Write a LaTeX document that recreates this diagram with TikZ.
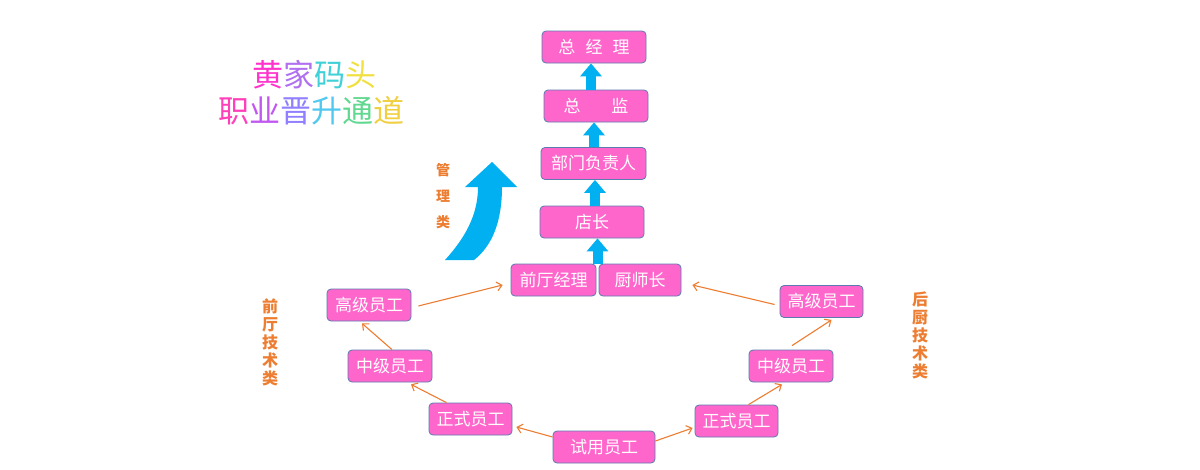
\documentclass[tikz,border=0pt]{standalone}
\usepackage{fontspec}
\newfontfamily\cjk{Noto Sans CJK SC}
\usetikzlibrary{arrows.meta,calc}
\definecolor{boxpink}{HTML}{FF66CC}
\definecolor{boxline}{HTML}{5B7BB0}
\definecolor{arrblue}{HTML}{00B0F0}
\definecolor{orng}{HTML}{ED7D31}
\definecolor{tA}{HTML}{FF33CC}
\definecolor{tB}{HTML}{B070F0}
\definecolor{tC}{HTML}{40D0D8}
\definecolor{tD}{HTML}{F0E040}
\definecolor{tE}{HTML}{FF40B8}
\definecolor{tF}{HTML}{C058F0}
\definecolor{tG}{HTML}{9080FF}
\definecolor{tH}{HTML}{50C8F0}
\definecolor{tI}{HTML}{60D890}
\definecolor{tJ}{HTML}{F0D040}
\newcommand\titleA{\textcolor{tA}{黄}\textcolor{tB}{家}\textcolor{tC}{码}\textcolor{tD}{头}}
\newcommand\titleB{\textcolor{tE}{职}\textcolor{tF}{业}\textcolor{tG}{晋}\textcolor{tH}{升}\textcolor{tI}{通}\textcolor{tJ}{道}}
\begin{document}
\begin{tikzpicture}[x=1pt,y=-1pt,
  box/.style={draw=boxline, line width=0.8pt, fill=boxpink, rounded corners=4pt,
    minimum height=32pt, inner sep=0pt, text=white,
    font=\cjk\fontsize{17}{17}\selectfont},
  uparr/.style={draw=arrblue, line width=10pt, -{Triangle[width=21pt,length=13pt]}},
  oarr/.style={draw=orng, line width=1.1pt, -{Straight Barb[length=5pt,width=9pt]}},
  lab/.style={text=orng, align=center, inner sep=0pt},
  ttl/.style={font=\cjk\fontsize{31}{31}\selectfont, inner sep=0pt}]
\useasboundingbox (0,0) rectangle (1200,469);
\fill[white] (0,0) rectangle (1200,469);

% title
\node[ttl] (tlA) at (314,75) {\titleA};
\node[ttl] (tlB) at (311,111) {\titleB};

% management chain
\node[box, minimum width=104pt] (zjl) at (594,47) {总\hspace{0.6em}经\hspace{0.6em}理};
\node[box, minimum width=104pt] (zj) at (596,106) {总\hspace{1.8em}监};
\node[box, minimum width=105pt] (bm) at (593.5,163.5) {部门负责人};
\node[box, minimum width=104pt] (dz) at (592,222) {店长};
\node[box, minimum width=85pt] (qt) at (553.5,280) {前厅经理};
\node[box, minimum width=82pt] (cs) at (640,280) {厨师长};

% front-of-house
\node[box, minimum width=84pt] (gj1) at (369,305) {高级员工};
\node[box, minimum width=84pt] (zj1) at (390,366) {中级员工};
\node[box, minimum width=83pt] (zs1) at (470.5,419) {正式员工};
\node[box, minimum width=102pt] (sy) at (604,447) {试用员工};
% kitchen
\node[box, minimum width=83pt] (zs2) at (736.5,421) {正式员工};
\node[box, minimum width=84pt] (zj2) at (791,366) {中级员工};
\node[box, minimum width=83pt] (gj2) at (821.5,301.5) {高级员工};

% blue block arrows
\draw[uparr] ($(zj.north)+(-5,0)$) -- ($(zjl.south)+(-3,0)$);
\draw[uparr] ($(bm.north)+(0.5,0)$) -- ($(zj.south)+(-2,0)$);
\coordinate (qc) at ($(qt.north east)!0.5!(cs.north west)$);
\draw[uparr] ($(dz.north)+(3,0)$) -- ($(bm.south)+(1.5,0)$);
\draw[uparr] (qc) -- ($(dz.south)+(5.5,0)$);

% orange arrows
\draw[oarr] ($(sy.west)+(0,-10)$) -- ($(zs1.east)+(4,8)$);
\draw[oarr] ($(sy.east)+(0,-6)$) -- ($(zs2.west)+(-2,7)$);
\draw[oarr] ($(zs1.north)+(-24,0)$) -- ($(zj1.south)+(21,2)$);
\draw[oarr] ($(zj1.north)+(2,0)$) -- ($(gj1.south)+(-7,2)$);
\draw[oarr] ($(gj1.east)+(7,1)$) -- ($(qt.west)+(-8,5)$);
\draw[oarr] ($(zs2.north)+(12,0)$) -- ($(zj2.south)+(-9,2)$);
\draw[oarr] ($(zj2.north)+(1,-4)$) -- ($(gj2.south)+(10,2)$);
\draw[oarr] ($(gj2.west)+(-5,3)$) -- ($(cs.east)+(11,5)$);

% curved big arrow
\fill[arrblue] (445,260) .. controls (465,238) and (478,215) .. (478,187)
  -- (465,187) -- (492,162) -- (517,187) -- (502,187)
  .. controls (502,222) and (492,246) .. (474,260) -- cycle;

% labels
\node[lab, font=\cjk\bfseries\fontsize{14}{26}\selectfont] (lgl) at (443,196) {管\\理\\类};
\node[lab, font=\cjk\bfseries\fontsize{16}{18}\selectfont] (lqt) at (270,342) {前\\厅\\技\\术\\类};
\node[lab, font=\cjk\bfseries\fontsize{16}{18}\selectfont] (lhc) at (920,335) {后\\厨\\技\\术\\类};
\end{tikzpicture}
\end{document}
